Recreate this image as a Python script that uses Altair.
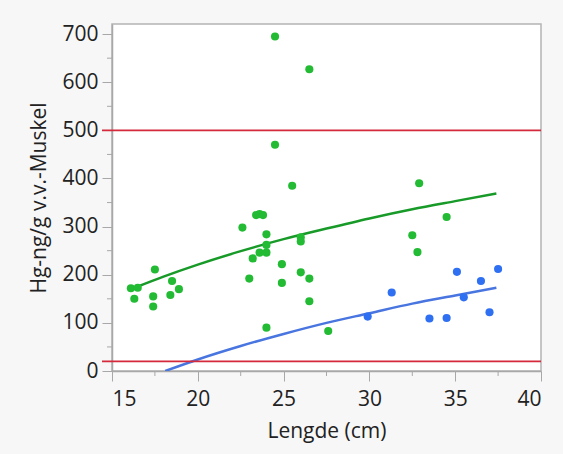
import altair as alt
import pandas as pd

# Scatter data (Lengde cm, Hg ng/g)
green_len = [16.1, 16.5, 16.3, 17.5, 17.4, 17.4, 18.5, 18.4, 18.9, 22.6, 23.0, 23.2,
             23.4, 23.6, 23.8, 24.0, 24.0, 23.6, 24.0, 24.0, 24.5, 24.5, 24.9, 24.9,
             25.5, 26.0, 26.0, 26.0, 26.5, 26.5, 26.5, 27.6, 32.5, 32.8, 32.9, 34.5]
green_hg = [172, 173, 150, 211, 155, 134, 187, 158, 170, 298, 192, 234,
            324, 326, 324, 284, 262, 246, 246, 90, 695, 470, 222, 183,
            385, 278, 269, 205, 627, 192, 145, 83, 282, 247, 390, 320]

blue_len = [29.9, 31.3, 33.5, 34.5, 35.1, 35.5, 36.5, 37.0, 37.5]
blue_hg = [113, 163, 109, 110, 206, 153, 187, 122, 212]

# Fitted curves
gfit_len = [16.4, 18.0, 20.0, 22.5, 25.0, 27.5, 30.0, 32.5, 35.0, 37.4]
gfit_hg = [174, 196, 221, 249, 274, 296, 317, 336, 353, 369]
bfit_len = [18.1, 20.0, 22.5, 25.0, 27.5, 30.0, 32.5, 35.0, 37.4]
bfit_hg = [0, 24, 52, 77, 100, 120, 140, 157, 173]

ref_lines = [20, 500]
y_minor = [50, 150, 250, 350, 450, 550, 650]
x_minor = [17.5, 22.5, 27.5, 32.5, 37.5]

W, H = 429, 347
FONT = "Open Sans"
GREEN = "#22bb33"
BLUE = "#2f6ff2"
GREEN_LINE = "#189a28"
BLUE_LINE = "#4875e0"
RED = "#d42a3c"
AX = "#a8a8a8"

xscale = alt.Scale(domain=[15, 40], nice=False, zero=False)
yscale = alt.Scale(domain=[0, 721], nice=False)

pts = pd.DataFrame({
    "len": green_len + blue_len,
    "hg": green_hg + blue_hg,
    "grp": ["g"] * len(green_len) + ["b"] * len(blue_len),
})
fits = pd.DataFrame({
    "len": gfit_len + bfit_len,
    "hg": gfit_hg + bfit_hg,
    "grp": ["g"] * len(gfit_len) + ["b"] * len(bfit_len),
})

xaxis = alt.Axis(values=[15, 20, 25, 30, 35, 40], title="Lengde (cm)", tickSize=10,
                 labelPadding=7, titlePadding=11, grid=False)
yaxis = alt.Axis(values=[0, 100, 200, 300, 400, 500, 600, 700], title="Hg-ng/g v.v.-Muskel",
                 tickSize=10, labelPadding=4, titlePadding=12, grid=False)

points = alt.Chart(pts).mark_circle(size=66, opacity=1).encode(
    x=alt.X("len:Q", scale=xscale, axis=xaxis),
    y=alt.Y("hg:Q", scale=yscale, axis=yaxis),
    color=alt.Color("grp:N", scale=alt.Scale(domain=["g", "b"], range=[GREEN, BLUE]), legend=None),
)

lines = alt.Chart(fits).mark_line(strokeWidth=2.5, interpolate="monotone", clip=True).encode(
    x=alt.X("len:Q", scale=xscale),
    y=alt.Y("hg:Q", scale=yscale),
    color=alt.Color("grp:N", scale=alt.Scale(domain=["g", "b"], range=[GREEN_LINE, BLUE_LINE]), legend=None),
    detail="grp:N",
)

refs = alt.Chart(pd.DataFrame({"v": ref_lines})).mark_rule(color=RED, strokeWidth=1.6, clip=False).encode(
    y=alt.Y("v:Q", scale=yscale),
    x=alt.value(-10),
    x2=alt.value(W),
)

yminor = alt.Chart(pd.DataFrame({"v": y_minor})).mark_rule(color=AX, strokeWidth=1, clip=False).encode(
    y=alt.Y("v:Q", scale=yscale),
    x=alt.value(-5),
    x2=alt.value(0),
)
xminor = alt.Chart(pd.DataFrame({"v": x_minor})).mark_rule(color=AX, strokeWidth=1, clip=False).encode(
    x=alt.X("v:Q", scale=xscale),
    y=alt.value(H),
    y2=alt.value(H + 5),
)

chart = alt.layer(yminor, xminor, lines, points, refs).resolve_scale(color="independent").properties(
    width=W, height=H,
    autosize=alt.AutoSizeParams(type="none"),
    padding={"left": 112, "top": 24, "right": 22, "bottom": 83},
    background="#f7f7f7",
).configure_view(
    fill="white", stroke="#b4b4b4", strokeWidth=1.5,
).configure_axis(
    labelFont=FONT, titleFont=FONT, labelFontSize=21, titleFontSize=21,
    labelColor="#222222", titleColor="#222222", titleFontWeight="normal",
    domainColor=AX, tickColor=AX, domainWidth=1.5, tickWidth=1,
)

chart.save("out.html", embed_options={"renderer": "svg", "actions": False})
